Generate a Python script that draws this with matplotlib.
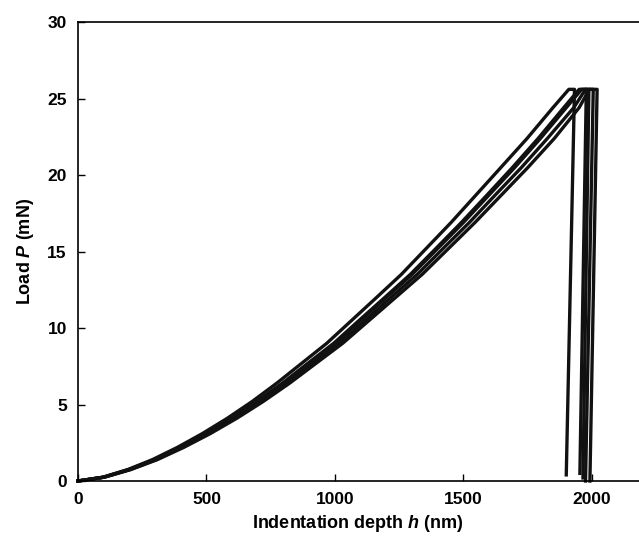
import matplotlib
matplotlib.use("Agg")
import matplotlib.pyplot as plt

plt.rcParams['font.family'] = ['Liberation Sans', 'DejaVu Sans']
plt.rcParams['mathtext.fontset'] = 'custom'
plt.rcParams['mathtext.it'] = 'Liberation Sans:italic:bold'
plt.rcParams['mathtext.rm'] = 'Liberation Sans:bold'

# load levels shared by the loading branches (mN)
load_levels = [0, 0.25, 0.75, 1.4, 2.2, 3.1, 4.1, 5.2, 6.4, 7.7, 9.0,
               10.5, 12.0, 13.5, 15.2, 16.9, 18.7, 20.5, 22.4, 24.4, 25.6]

# loading depths (nm) of each test at the load levels above
depth_a = [0, 97, 194, 290, 387, 484, 581, 678, 774, 871, 968, 1065, 1162,
           1258, 1355, 1452, 1549, 1646, 1748, 1848, 1910]
depth_b = [0, 99, 199, 298, 398, 497, 597, 696, 796, 895, 995, 1094, 1194,
           1293, 1393, 1492, 1592, 1691, 1791, 1890, 1950]
depth_c = [0, 100, 200, 300, 400, 500, 600, 700, 800, 900, 1000, 1100, 1200,
           1300, 1400, 1500, 1600, 1700, 1800, 1900, 1960]
depth_d = [0, 102, 203, 305, 406, 508, 609, 711, 812, 914, 1015, 1117, 1218,
           1320, 1421, 1523, 1624, 1726, 1827, 1929, 1975]
depth_e = [0, 103, 206, 309, 412, 515, 618, 721, 824, 927, 1030, 1133, 1236,
           1339, 1442, 1545, 1648, 1751, 1854, 1950, 1990]

# depth at end of hold, depth and load at end of unloading
hold_end = [1932, 1978, 1988, 2005, 2020]
unload_depth = [1900, 1953, 1965, 1975, 1992]
unload_load = [0.4, 0.5, 0.2, 0.0, 0.0]
peak_load = 25.6

loading = [depth_a, depth_b, depth_c, depth_d, depth_e]

fig = plt.figure(figsize=(6.39, 5.45), dpi=100)
ax = fig.add_axes([0.122, 0.1174, 0.878, 0.8422])

for i, depths in enumerate(loading):
    h = list(depths) + [hold_end[i], unload_depth[i]]
    p = list(load_levels) + [peak_load, unload_load[i]]
    ax.plot(h, p, '-', color='#111111', lw=2.4, solid_joinstyle='round',
            clip_on=False)

ax.set_xlim(0, 2183)
ax.set_ylim(0, 30)
ax.set_xticks([0, 500, 1000, 1500, 2000])
ax.set_yticks([0, 5, 10, 15, 20, 25, 30])
ax.tick_params(direction='in', length=5, width=1, labelsize=12.5, pad=8,
               top=False, right=False)
for lab in ax.get_xticklabels() + ax.get_yticklabels():
    lab.set_fontweight('bold')
ax.spines['right'].set_visible(False)
for s in ['left', 'bottom', 'top']:
    ax.spines[s].set_linewidth(1.2)

ax.set_xlabel(r'Indentation depth $h$ (nm)', fontsize=13, fontweight='bold',
              labelpad=4)
ax.set_ylabel(r'Load $P$ (mN)', fontsize=13, fontweight='bold', labelpad=8)

fig.savefig('out.png', dpi=100)
